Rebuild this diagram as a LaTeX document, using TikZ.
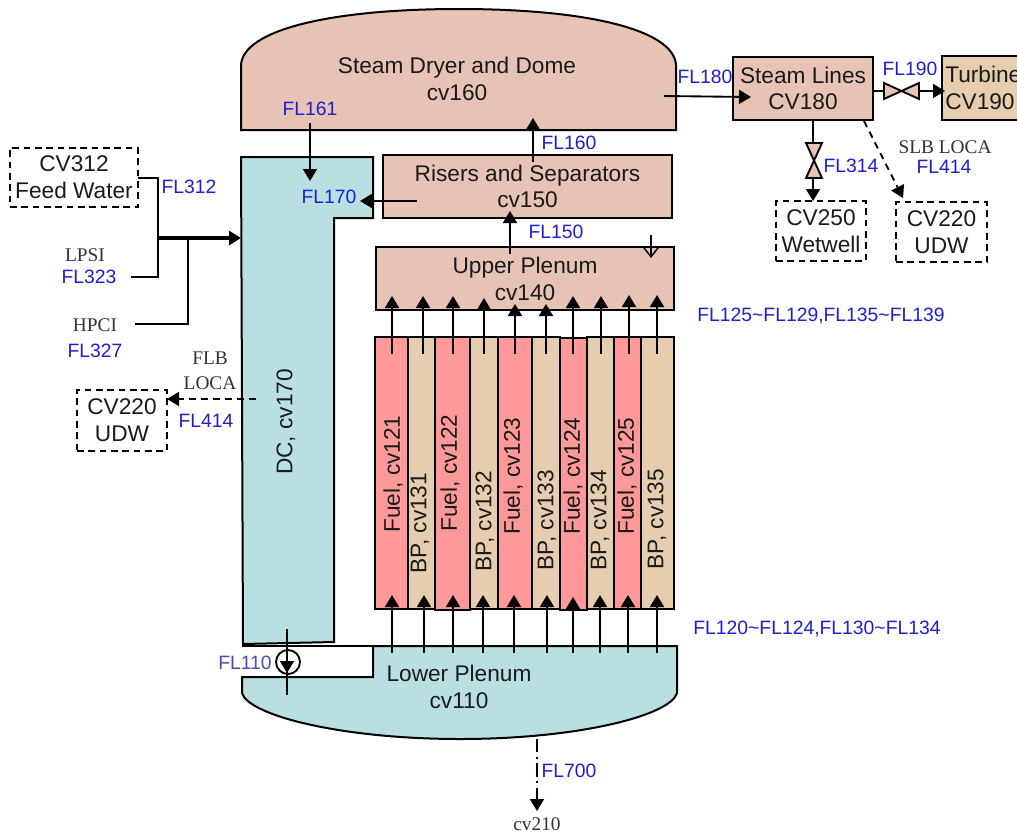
\documentclass[tikz,border=0pt]{standalone}
\usepackage{fontspec}
\setmainfont{Liberation Sans}
\newfontfamily\serifface{Liberation Serif}
\usetikzlibrary{arrows.meta}
\definecolor{salmon}{HTML}{E6C3B4}
\definecolor{teal}{HTML}{B9DFE2}
\definecolor{fuelred}{HTML}{FF9999}
\definecolor{bypass}{HTML}{E6CDB0}
\definecolor{flblue}{HTML}{1F1FD0}
\definecolor{flpale}{HTML}{4A4AB0}
\definecolor{ink}{HTML}{1A1A1A}
\definecolor{sgrey}{HTML}{333333}
\tikzset{
  vessel/.style={draw=black,line width=1.5pt,line join=miter},
  flow/.style={draw=black,line width=1.4pt,-{Triangle[length=9pt,width=10.5pt]}},
  pipe/.style={draw=black,line width=1.4pt},
  dashflow/.style={flow,dash pattern=on 5pt off 4pt},
  boxnode/.style={draw=black,line width=1.5pt,inner sep=0pt,outer sep=0pt,align=center,text=ink,
     font=\fontsize{17}{20}\selectfont},
  dashbox/.style={boxnode,dash pattern=on 5pt off 3.5pt},
  big/.style={inner sep=0pt,align=center,text=ink,font=\fontsize{17}{20}\selectfont},
  fl/.style={inner sep=0pt,text=flblue,font=\fontsize{14.5}{17}\selectfont},
  srf/.style={inner sep=0pt,align=center,text=sgrey,font=\serifface\fontsize{14.5}{18.5}\selectfont},
  valve/.style={draw=black,line width=1.4pt,fill=salmon,line join=miter},
}
\newcommand{\pxbox}[7]{\node[#5,minimum width={(#3-#1)*0.75pt},minimum height={(#4-#2)*0.75pt}] (#6) at ({(#1+#3)/2},{(#2+#4)/2}) {#7};}
\begin{document}
\begin{tikzpicture}[x=0.75pt,y=-0.75pt]
\path[use as bounding box] (0,0) rectangle (1017,836);
\clip (0,0) rectangle (1017,836);

% dome
\path[vessel,fill=salmon] (241,130) -- (241,65) .. controls (243,30) and (330,9) .. (459,9)
   .. controls (588,9) and (674,30) .. (676,65) -- (676,130) -- cycle;
\node[big] (domelabel) at (457,79) {Steam Dryer and Dome\\cv160};

% downcomer
\path[vessel,fill=teal] (241,157) -- (373,157) -- (373,218) -- (334,218) -- (334,642) -- (243,644) -- cycle;
\node[big,rotate=90] (dclabel) at (286,422) {DC, cv170};

% lower plenum
\path[vessel,fill=teal] (373,646) -- (677,646) -- (677,693) .. controls (671,715) and (580,739) .. (460,739)
   .. controls (340,739) and (248,715) .. (242,693) -- (242,677) -- (373,677) -- cycle;
\draw[line width=0.8pt] (242,646) -- (373,646);
\node[big] (lplabel) at (459,687) {Lower Plenum\\cv110};

% boxes
\pxbox{383}{155}{672}{218}{boxnode,fill=salmon}{risers}{Risers and Separators\\cv150}
\pxbox{376}{247}{674}{310}{boxnode,fill=salmon,text depth=0pt}{upper}{Upper Plenum\\cv140}
\pxbox{733}{57}{873}{120}{boxnode,fill=salmon}{steam}{Steam Lines\\CV180}
\pxbox{942}{56}{1040}{120}{boxnode,fill=bypass}{turbinebox}{}
\node[big,anchor=west,align=left] (turbine) at (945,88) {Turbine\\CV190};
\pxbox{10}{148}{138}{207}{dashbox}{feed}{CV312\\Feed Water}
\pxbox{77}{390}{167}{451}{dashbox}{udwl}{CV220\\UDW}
\pxbox{776}{201}{866}{261}{dashbox}{wetwell}{CV250\\Wetwell}
\pxbox{896}{202}{987}{262}{dashbox}{udwr}{CV220\\UDW}

% core columns
\pxbox{375}{337}{408}{609}{boxnode,fill=fuelred}{c1}{}
\pxbox{408}{337}{435}{609}{boxnode,fill=bypass}{c2}{}
\pxbox{435}{337}{470}{610}{boxnode,fill=fuelred}{c3}{}
\pxbox{470}{337}{498}{609}{boxnode,fill=bypass}{c4}{}
\pxbox{498}{337}{532}{609}{boxnode,fill=fuelred}{c5}{}
\pxbox{532}{337}{560}{609}{boxnode,fill=bypass}{c6}{}
\pxbox{560}{338}{587}{610}{boxnode,fill=fuelred}{c7}{}
\pxbox{587}{337}{614}{609}{boxnode,fill=bypass}{c8}{}
\pxbox{614}{337}{641}{609}{boxnode,fill=fuelred}{c9}{}
\pxbox{641}{337}{674}{609}{boxnode,fill=bypass}{c10}{}
\foreach \n/\x/\y/\t in {a/393/474/{Fuel, cv121},b/420/523/{BP, cv131},d/450/473/{Fuel, cv122},e/485/521/{BP, cv132},
  f/513/476/{Fuel, cv123},g/547/520/{BP, cv133},h/573/476/{Fuel, cv124},i/600/520/{BP, cv134},j/627/476/{Fuel, cv125},k/657/519/{BP, cv135}}
  {\node[big,rotate=90] (t\n) at (\x,\y) {\t};}

% core flow arrows
\foreach \i/\x/\t in {1/392/296,2/423/296,3/453/296,4/484/298,5/515/304,6/546/304,7/573/296,8/601/296,9/629/295,10/657/295}
  {\coordinate (us\i) at (\x,354); \coordinate (ut\i) at (\x,\t); \draw[flow] (us\i) -- (ut\i);}
\foreach \i/\x/\t in {1/392/595,2/424/595,3/453/595,4/483/595,5/514/595,6/547/595,7/573/597,8/600/595,9/628/595,10/657/595}
  {\coordinate (ls\i) at (\x,653); \coordinate (lt\i) at (\x,\t); \draw[flow] (ls\i) -- (lt\i);}

% vessel-internal connectors
\coordinate (up1) at (510,254); \coordinate (up2) at (510,211);
\draw[flow] (up1) -- (up2);
\coordinate (r1) at (533,162); \coordinate (r2) at (533,118);
\draw[flow] (r1) -- (r2);
\coordinate (r3) at (417,201); \coordinate (r4) at (360,201);
\draw[flow] (r3) -- (r4);
\coordinate (d1) at (310,123); \coordinate (d2) at (310,181);
\draw[flow] (d1) -- (d2);
\coordinate (o1) at (651,235); \coordinate (o2) at (651,258);
\draw[line width=1.1pt,-{Straight Barb[length=7pt,width=11pt]}] (o1) -- (o2);

% FL110 pump
\coordinate (p0) at (288,662);
\draw[line width=1.4pt] (p0) circle (12);
\coordinate (p1) at (287,629); \coordinate (p2) at (287,695); \coordinate (p3) at (287,673);
\draw[pipe] (p1) -- (p2);
\draw[flow] (p1) -- (p3);

% injection lines
\coordinate (j1) at (158,238); \coordinate (j2) at (188,238); \coordinate (dcin) at (241,238);
\coordinate (l1) at (131,277); \coordinate (h1) at (135,324);
\draw[pipe,line join=miter] (feed.east |- 0,178) -- (158,178) -- (l1 -| j1) -- (l1);
\draw[pipe,line join=miter] (h1) -- (h1 -| j2) -- (j2);
\draw[line width=2.5pt,-{Triangle[length=9pt,width=10.5pt]}] (j1) -- (dcin);

% FLB LOCA
\coordinate (b1) at (256,399);
\draw[dashflow] (b1) -- (udwl.east |- b1);

% steam line connectors
\coordinate (s1) at (664,96); \coordinate (s2) at (751,97);
\draw[flow] (s1) -- (s2);
\coordinate (v190) at (901,91);
\draw[pipe] (steam.east |- v190) -- (884,91);
\draw[flow] (919,91) -- (945,91);
\draw[valve] (884,83) -- (919,99) -- (919,83) -- (884,99) -- cycle;
\coordinate (v314) at (813,160);
\draw[pipe] (steam.south -| v314) -- (813,143);
\draw[flow] (813,178) -- (wetwell.north -| v314);
\draw[valve] (806,143) -- (822,178) -- (806,178) -- (822,143) -- cycle;
\coordinate (lo1) at (864,121); \coordinate (lo2) at (903,198);
\draw[dashflow] (lo1) -- (lo2);

% FL700
\coordinate (f1) at (537,739); \coordinate (f2) at (537,811);
\draw[flow,dash pattern=on 10pt off 3.5pt on 1.2pt off 3.5pt] (f1) -- (f2);

% labels
\node[fl] (l161) at (310,109) {FL161};
\node[fl] (l160) at (569,143) {FL160};
\node[fl] (l170) at (329,197) {FL170};
\node[fl] (l150) at (556,232) {FL150};
\node[fl] (l180) at (705,77) {FL180};
\node[fl] (l190) at (910,69) {FL190};
\node[fl] (l312) at (189,187) {FL312};
\node[fl] (l323) at (89,277) {FL323};
\node[fl] (l327) at (95,351) {FL327};
\node[fl] (l414a) at (206,421) {FL414};
\node[fl] (l414b) at (944,167) {FL414};
\node[fl] (l314) at (851,166) {FL314};
\node[fl] (l700) at (569,771) {FL700};
\node[fl,text=flpale] (l110) at (245,663) {FL110};
\node[fl] (ltop) at (821,316) {FL125\textasciitilde FL129,FL135\textasciitilde FL139};
\node[fl] (lbot) at (817,629) {FL120\textasciitilde FL124,FL130\textasciitilde FL134};
\node[srf] (lpsi) at (85,255) {LPSI};
\node[srf] (hpci) at (95,325) {HPCI};
\node[srf] (flb) at (210,371) {FLB\\LOCA};
\node[srf] (slb) at (945,147) {SLB LOCA};
\node[srf] (cv210) at (537,824) {cv210};
\end{tikzpicture}
\end{document}
